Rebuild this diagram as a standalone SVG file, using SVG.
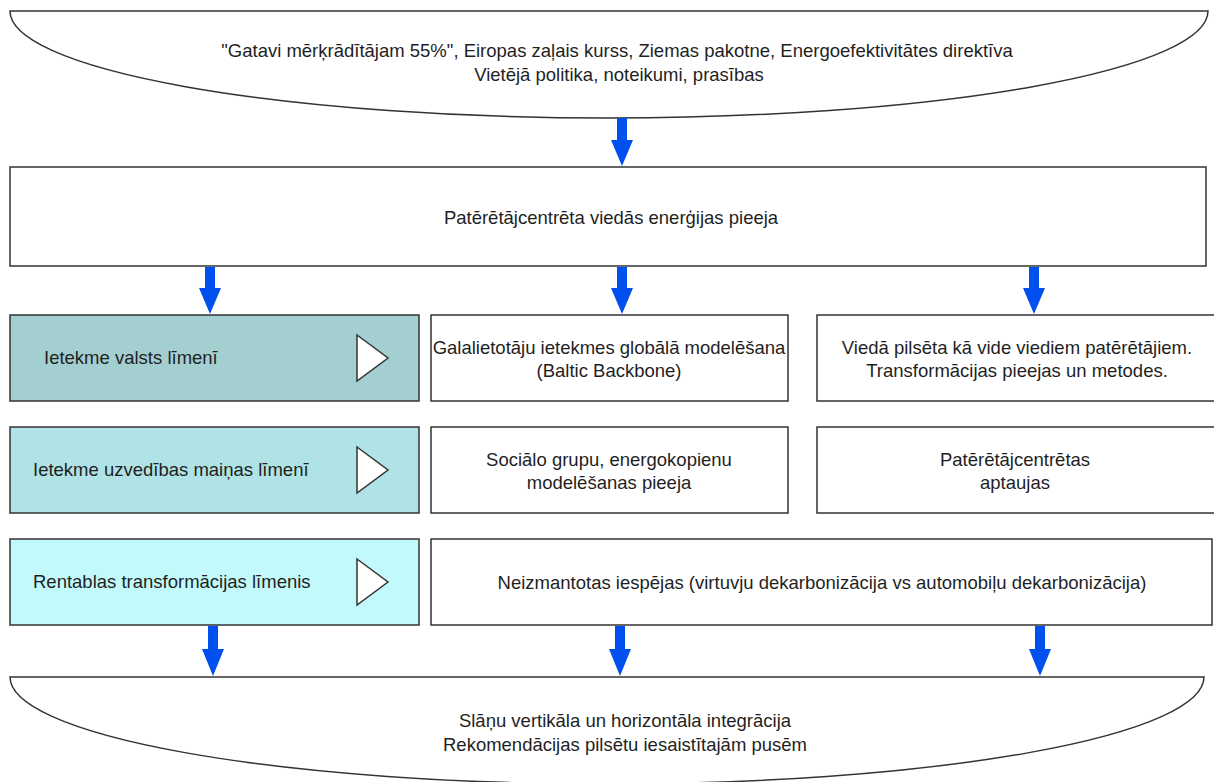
<svg xmlns="http://www.w3.org/2000/svg" width="1214" height="782" viewBox="0 0 1214 782">
<defs>
<style>
.box{stroke:#333333;stroke-width:1.5}
.w{fill:#ffffff}
.t{font-family:"Liberation Sans",Arial,sans-serif;font-size:18.5px;fill:#1f1f1f}
.c{text-anchor:middle}
.arr{fill:#0050ef}
.tri{fill:#ffffff;stroke:#333333;stroke-width:1.5}
</style>
</defs>
<rect width="1214" height="782" fill="#ffffff"/>
<g id="policy">
<path class="box w" d="M10 11 H1208 A599 107 0 0 1 10 11 Z"/>
<text class="t c" x="617" y="57">"Gatavi mērķrādītājam 55%", Eiropas zaļais kurss, Ziemas pakotne, Energoefektivitātes direktīva</text>
<text class="t c" x="619" y="81">Vietējā politika, noteikumi, prasības</text>
</g>
<g id="approach">
<rect class="box w" x="10" y="167" width="1196" height="99"/>
<text class="t c" x="611" y="224">Patērētājcentrēta viedās enerģijas pieeja</text>
</g>
<g id="level1">
<rect class="box" fill="#a3cfd1" x="10" y="315" width="409" height="86"/>
<text class="t" x="44" y="364">Ietekme valsts līmenī</text>
<path class="tri" d="M357 335 L388 358 L357 381 Z"/>
</g>
<g id="level2">
<rect class="box" fill="#b0e3e6" x="10" y="427" width="409" height="86"/>
<text class="t" x="33" y="476">Ietekme uzvedības maiņas līmenī</text>
<path class="tri" d="M357 447 L388 470 L357 493 Z"/>
</g>
<g id="level3">
<rect class="box" fill="#c2fafc" x="10" y="539" width="409" height="86"/>
<text class="t" x="33" y="588">Rentablas transformācijas līmenis</text>
<path class="tri" d="M357 559 L388 582 L357 605 Z"/>
</g>
<g id="global-model">
<rect class="box w" x="431" y="315" width="357" height="86"/>
<text class="t c" x="609" y="354">Galalietotāju ietekmes globālā modelēšana</text>
<text class="t c" x="609" y="377">(Baltic Backbone)</text>
</g>
<g id="smart-city">
<rect class="box w" x="817" y="315" width="400" height="86"/>
<text class="t c" x="1017" y="354">Viedā pilsēta kā vide viediem patērētājiem.</text>
<text class="t c" x="1017" y="377">Transformācijas pieejas un metodes.</text>
</g>
<g id="social-groups">
<rect class="box w" x="431" y="427" width="357" height="86"/>
<text class="t c" x="609" y="466">Sociālo grupu, energokopienu</text>
<text class="t c" x="609" y="489">modelēšanas pieeja</text>
</g>
<g id="surveys">
<rect class="box w" x="817" y="427" width="400" height="86"/>
<text class="t c" x="1015" y="466">Patērētājcentrētas</text>
<text class="t c" x="1015" y="489">aptaujas</text>
</g>
<g id="opportunities">
<rect class="box w" x="431" y="539" width="781" height="86"/>
<text class="t c" x="822" y="589">Neizmantotas iespējas (virtuvju dekarbonizācija vs automobiļu dekarbonizācija)</text>
</g>
<g id="integration">
<path class="box w" d="M10 677 H1204 A597 107 0 0 1 10 677 Z"/>
<text class="t c" x="625" y="727">Slāņu vertikāla un horizontāla integrācija</text>
<text class="t c" x="625" y="751">Rekomendācijas pilsētu iesaistītajām pusēm</text>
</g>
<g id="connectors">
<path class="arr" d="M617 118 H627 V140 H633 L622 166 L611 140 H617 Z"/>
<path class="arr" d="M205 267 H215 V288 H221 L210 314 L199 288 H205 Z"/>
<path class="arr" d="M617 267 H627 V288 H633 L622 314 L611 288 H617 Z"/>
<path class="arr" d="M1029 267 H1039 V288 H1045 L1034 314 L1023 288 H1029 Z"/>
<path class="arr" d="M208 626 H218 V649 H224 L213 676 L202 649 H208 Z"/>
<path class="arr" d="M615 626 H625 V649 H631 L620 676 L609 649 H615 Z"/>
<path class="arr" d="M1035 626 H1045 V649 H1051 L1040 676 L1029 649 H1035 Z"/>
</g>
</svg>
